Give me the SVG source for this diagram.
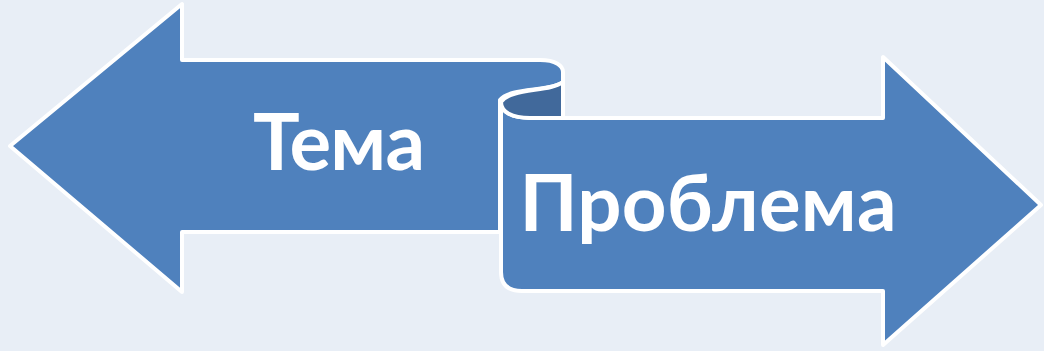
<svg xmlns="http://www.w3.org/2000/svg" width="1044" height="351" viewBox="0 0 1044 351">
<style>
.shape{fill:#4F81BD;stroke:#FFFFFF;stroke-width:4;stroke-linejoin:round}
.inner{fill:#41699B;stroke:#FFFFFF;stroke-width:4;stroke-linejoin:round}
.lbl{font-family:Lato,"Open Sans","Noto Sans",sans-serif;font-weight:bold;fill:#FFFFFF;font-size:78px}
</style>
<rect width="1044" height="351" fill="#E8EEF6"/>
<g id="node-tema">
<path class="shape" d="M10,146 L182,4 L182,60 L540,60 C556,60 563,66 563,72 L563,82 C550,92 510,87 500,100 L500,232 L182,232 L182,292 Z"/>
</g>
<g id="node-problema">
<path class="shape" d="M501,102 L501,272 Q501,291 522,291 L883,291 L883,345 L1041,205 L883,57 L883,118 L530,118 C512,118 501,112 501,102 Z"/>
<path class="inner" d="M563,82 C550,92 510,88 501,102 C501,112 512,118 530,118 L563,118 Z"/>
</g>
<g id="connectors"></g>
<g id="labels">
<text class="lbl" x="339" y="170" text-anchor="middle" textLength="172" lengthAdjust="spacing">Тема</text>
<text class="lbl" x="708" y="231" text-anchor="middle" textLength="377" lengthAdjust="spacing">Проблема</text>
</g>
</svg>
